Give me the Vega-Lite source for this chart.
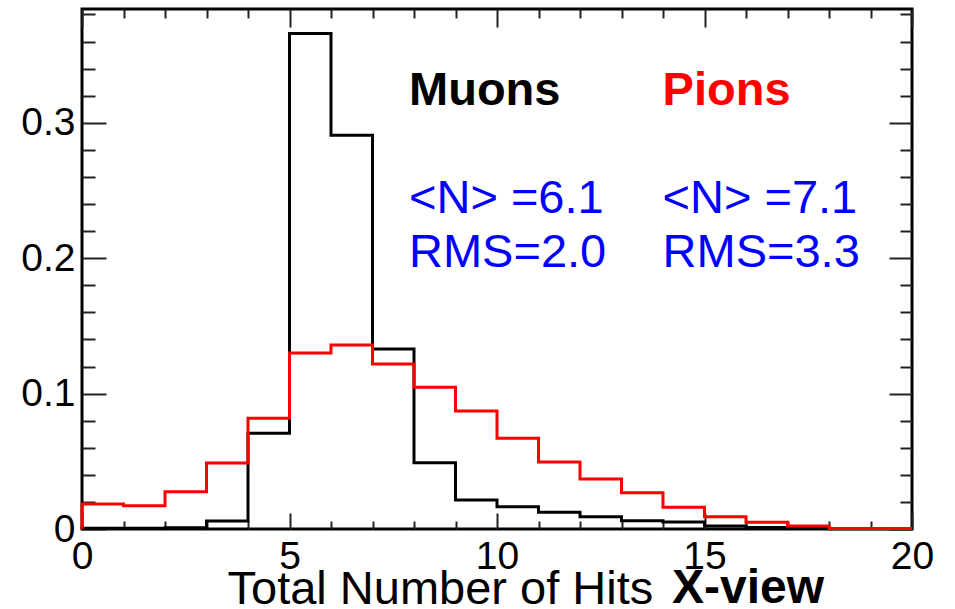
{
  "$schema": "https://vega.github.io/schema/vega-lite/v6.json",
  "width": 830,
  "height": 520,
  "autosize": "none",
  "padding": {"left": 82, "top": 9, "right": 43, "bottom": 80},
  "background": "white",
  "config": {
    "view": {"stroke": "black", "strokeWidth": 3},
    "font": "Liberation Sans",
    "axis": {
      "domain": false,
      "grid": false,
      "tickColor": "#222222",
      "tickWidth": 2,
      "labelFont": "Liberation Sans",
      "labelFontSize": 39,
      "labelColor": "black",
      "labelOverlap": false,
      "labelFlush": false,
      "titleFont": "Liberation Sans",
      "titleColor": "black"
    }
  },
  "datasets": {
    "hist": [
      {"particle": "Muons", "lo": -1, "hi": 0, "v": 0},
      {"particle": "Muons", "lo": 0, "hi": 1, "v": 0.0005},
      {"particle": "Muons", "lo": 1, "hi": 2, "v": 0.0005},
      {"particle": "Muons", "lo": 2, "hi": 3, "v": 0.001},
      {"particle": "Muons", "lo": 3, "hi": 4, "v": 0.006},
      {"particle": "Muons", "lo": 4, "hi": 5, "v": 0.0707},
      {"particle": "Muons", "lo": 5, "hi": 6, "v": 0.366},
      {"particle": "Muons", "lo": 6, "hi": 7, "v": 0.2907},
      {"particle": "Muons", "lo": 7, "hi": 8, "v": 0.133},
      {"particle": "Muons", "lo": 8, "hi": 9, "v": 0.049},
      {"particle": "Muons", "lo": 9, "hi": 10, "v": 0.0214},
      {"particle": "Muons", "lo": 10, "hi": 11, "v": 0.0165},
      {"particle": "Muons", "lo": 11, "hi": 12, "v": 0.0123},
      {"particle": "Muons", "lo": 12, "hi": 13, "v": 0.0091},
      {"particle": "Muons", "lo": 13, "hi": 14, "v": 0.0061},
      {"particle": "Muons", "lo": 14, "hi": 15, "v": 0.0052},
      {"particle": "Muons", "lo": 15, "hi": 16, "v": 0.0022},
      {"particle": "Muons", "lo": 16, "hi": 17, "v": 0.0012},
      {"particle": "Muons", "lo": 17, "hi": 18, "v": 0.0007},
      {"particle": "Muons", "lo": 18, "hi": 19, "v": 0.0002},
      {"particle": "Muons", "lo": 19, "hi": 20, "v": 0.0001},
      {"particle": "Pions", "lo": -1, "hi": 0, "v": 0},
      {"particle": "Pions", "lo": 0, "hi": 1, "v": 0.0185},
      {"particle": "Pions", "lo": 1, "hi": 2, "v": 0.0172},
      {"particle": "Pions", "lo": 2, "hi": 3, "v": 0.0276},
      {"particle": "Pions", "lo": 3, "hi": 4, "v": 0.0487},
      {"particle": "Pions", "lo": 4, "hi": 5, "v": 0.0817},
      {"particle": "Pions", "lo": 5, "hi": 6, "v": 0.13},
      {"particle": "Pions", "lo": 6, "hi": 7, "v": 0.1359},
      {"particle": "Pions", "lo": 7, "hi": 8, "v": 0.1218},
      {"particle": "Pions", "lo": 8, "hi": 9, "v": 0.1046},
      {"particle": "Pions", "lo": 9, "hi": 10, "v": 0.0871},
      {"particle": "Pions", "lo": 10, "hi": 11, "v": 0.067},
      {"particle": "Pions", "lo": 11, "hi": 12, "v": 0.0495},
      {"particle": "Pions", "lo": 12, "hi": 13, "v": 0.0369},
      {"particle": "Pions", "lo": 13, "hi": 14, "v": 0.0268},
      {"particle": "Pions", "lo": 14, "hi": 15, "v": 0.016},
      {"particle": "Pions", "lo": 15, "hi": 16, "v": 0.0091},
      {"particle": "Pions", "lo": 16, "hi": 17, "v": 0.0049},
      {"particle": "Pions", "lo": 17, "hi": 18, "v": 0.0022},
      {"particle": "Pions", "lo": 18, "hi": 19, "v": 0.0004},
      {"particle": "Pions", "lo": 19, "hi": 20, "v": 0.0003}
    ]
  },
  "layer": [
    {
      "data": {"name": "hist"},
      "transform": [{"filter": "datum.particle == 'Muons'"}],
      "mark": {"type": "line", "interpolate": "step-before", "color": "black", "strokeWidth": 3, "strokeCap": "butt", "strokeJoin": "miter"},
      "encoding": {
        "x": {
          "field": "hi", "type": "quantitative",
          "scale": {"domain": [0, 20], "nice": false, "zero": false},
          "axis": {
            "orient": "bottom",
            "values": [0,1,2,3,4,5,6,7,8,9,10,11,12,13,14,15,16,17,18,19,20],
            "labelExpr": "datum.value % 5 == 0 ? datum.label : ''",
            "tickSize": {"condition": {"test": "datum.value % 5 == 0", "value": -16}, "value": -8},
            "labelPadding": 24,
            "title": "Total Number of Hits",
            "titleFontSize": 47,
            "titleFontWeight": "normal",
            "titleAlign": "left",
            "titleBaseline": "alphabetic",
            "titleX": 145,
            "titleY": 74
          }
        },
        "y": {
          "field": "v", "type": "quantitative",
          "scale": {"domain": [0, 0.384], "nice": false, "zero": true},
          "axis": {
            "orient": "left",
            "values": [0,0.02,0.04,0.06,0.08,0.1,0.12,0.14,0.16,0.18,0.2,0.22,0.24,0.26,0.28,0.3,0.32,0.34,0.36,0.38],
            "labelExpr": "abs(datum.value*10 - round(datum.value*10)) < 0.001 ? (datum.value == 0 ? '0' : format(datum.value, '.1f')) : ''",
            "tickSize": {"condition": {"test": "abs(datum.value*10 - round(datum.value*10)) < 0.001", "value": -24}, "value": -13},
            "labelPadding": 31,
            "title": null
          }
        }
      }
    },
    {
      "data": {"name": "hist"},
      "transform": [{"filter": "datum.particle == 'Pions'"}],
      "mark": {"type": "line", "interpolate": "step-before", "color": "#ff0000", "strokeWidth": 3, "strokeCap": "butt", "strokeJoin": "miter"},
      "encoding": {
        "x": {
          "field": "hi", "type": "quantitative",
          "axis": {
            "orient": "top",
            "values": [0,1,2,3,4,5,6,7,8,9,10,11,12,13,14,15,16,17,18,19,20],
            "labels": false,
            "tickSize": {"condition": {"test": "datum.value % 5 == 0", "value": -18}, "value": -9},
            "title": null
          }
        },
        "y": {
          "field": "v", "type": "quantitative",
          "axis": {
            "orient": "right",
            "values": [0,0.02,0.04,0.06,0.08,0.1,0.12,0.14,0.16,0.18,0.2,0.22,0.24,0.26,0.28,0.3,0.32,0.34,0.36,0.38],
            "labels": false,
            "tickSize": {"condition": {"test": "abs(datum.value*10 - round(datum.value*10)) < 0.001", "value": -23}, "value": -12},
            "title": null
          }
        }
      }
    },
    {
      "data": {"values": [{}]},
      "mark": {"type": "text", "text": "X-view", "font": "Liberation Sans", "fontSize": 48, "fontWeight": "bold", "color": "black", "align": "right", "baseline": "alphabetic"},
      "encoding": {
        "x": {"datum": 17.88, "type": "quantitative", "axis": null},
        "y": {"datum": -0.0547, "type": "quantitative", "axis": null}
      }
    },
    {
      "data": {"values": [{}]},
      "mark": {"type": "text", "text": "Muons", "font": "Liberation Sans", "fontSize": 47, "fontWeight": "bold", "color": "black", "align": "left", "baseline": "alphabetic"},
      "encoding": {
        "x": {"datum": 7.88, "type": "quantitative", "axis": null},
        "y": {"datum": 0.313, "type": "quantitative", "axis": null}
      }
    },
    {
      "data": {"values": [{}]},
      "mark": {"type": "text", "text": "Pions", "font": "Liberation Sans", "fontSize": 47, "fontWeight": "bold", "color": "#ff0000", "align": "left", "baseline": "alphabetic"},
      "encoding": {
        "x": {"datum": 13.99, "type": "quantitative", "axis": null},
        "y": {"datum": 0.313, "type": "quantitative", "axis": null}
      }
    },
    {
      "data": {"values": [{}]},
      "mark": {"type": "text", "text": "<N> =6.1", "font": "Liberation Sans", "fontSize": 47, "color": "#0000ff", "align": "left", "baseline": "alphabetic"},
      "encoding": {
        "x": {"datum": 7.88, "type": "quantitative", "axis": null},
        "y": {"datum": 0.2336, "type": "quantitative", "axis": null}
      }
    },
    {
      "data": {"values": [{}]},
      "mark": {"type": "text", "text": "RMS=2.0", "font": "Liberation Sans", "fontSize": 47, "color": "#0000ff", "align": "left", "baseline": "alphabetic"},
      "encoding": {
        "x": {"datum": 7.88, "type": "quantitative", "axis": null},
        "y": {"datum": 0.1937, "type": "quantitative", "axis": null}
      }
    },
    {
      "data": {"values": [{}]},
      "mark": {"type": "text", "text": "<N> =7.1", "font": "Liberation Sans", "fontSize": 47, "color": "#0000ff", "align": "left", "baseline": "alphabetic"},
      "encoding": {
        "x": {"datum": 13.99, "type": "quantitative", "axis": null},
        "y": {"datum": 0.2336, "type": "quantitative", "axis": null}
      }
    },
    {
      "data": {"values": [{}]},
      "mark": {"type": "text", "text": "RMS=3.3", "font": "Liberation Sans", "fontSize": 47, "color": "#0000ff", "align": "left", "baseline": "alphabetic"},
      "encoding": {
        "x": {"datum": 13.99, "type": "quantitative", "axis": null},
        "y": {"datum": 0.1937, "type": "quantitative", "axis": null}
      }
    }
  ],
  "resolve": {"axis": {"x": "independent", "y": "independent"}}
}
